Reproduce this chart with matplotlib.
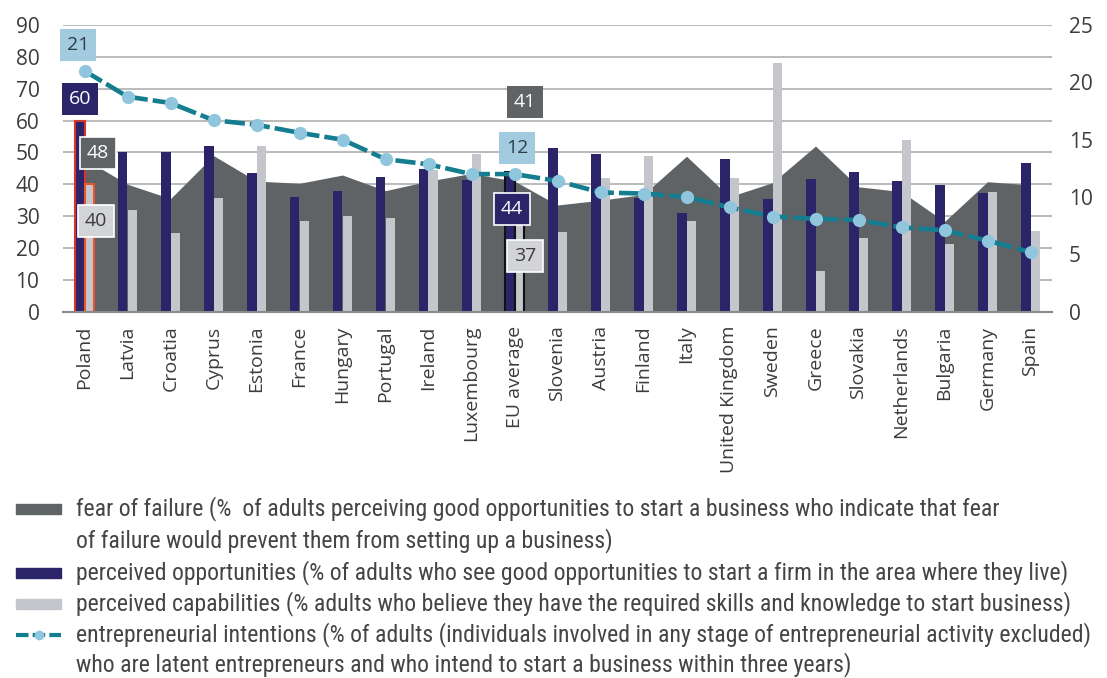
import numpy as np
import matplotlib.pyplot as plt
from matplotlib import font_manager as fm
from matplotlib.patches import Rectangle
from matplotlib.lines import Line2D

countries = ['Poland', 'Latvia', 'Croatia', 'Cyprus', 'Estonia', 'France', 'Hungary',
             'Portugal', 'Ireland', 'Luxembourg', 'EU average', 'Slovenia', 'Austria',
             'Finland', 'Italy', 'United Kingdom', 'Sweden', 'Greece', 'Slovakia',
             'Netherlands', 'Bulgaria', 'Germany', 'Spain']

# left axis, %
fear = [48, 40, 35.5, 49, 41, 40.3, 42.9, 38, 41, 43.4, 41, 33.5, 35, 36.8,
        48.8, 36.1, 40.5, 52, 39.2, 37.7, 28.3, 40.8, 39.8]
opportunities = [60, 50, 50, 52, 43.5, 36, 38, 42.4, 44.7, 41.3, 44, 51.5, 49.4,
                 35.6, 31, 47.8, 35.4, 41.7, 44, 41, 39.8, 37.2, 46.6]
capabilities = [40, 32, 24.6, 35.6, 52, 28.6, 30, 29.3, 44.5, 49.5, 37, 25.1, 42.1,
                48.9, 28.6, 42.1, 78, 12.9, 23, 53.9, 21.1, 37.5, 25.4]
# right axis, %
intentions = [21, 18.75, 18.2, 16.7, 16.3, 15.6, 15, 13.3, 12.85, 12, 12, 11.4, 10.4,
              10.3, 10, 9.1, 8.3, 8.1, 8, 7.35, 7.1, 6.2, 5.2]

legend_labels = [
    'fear of failure (%  of adults perceiving good opportunities to start a business who indicate that fear\n'
    'of failure would prevent them from setting up a business)',
    'perceived opportunities (% of adults who see good opportunities to start a firm in the area where they live)',
    'perceived capabilities (% adults who believe they have the required skills and knowledge to start business)',
    'entrepreneurial intentions (% of adults (individuals involved in any stage of entrepreneurial activity excluded)\n'
    'who are latent entrepreneurs and who intend to start a business within three years)',
]

grey_dark = '#5f6365'
navy = '#2c2468'
grey_light = '#c4c6cc'
teal = '#157d90'
light_blue = '#8fc6dd'
label_blue = '#a3cbe0'
txt = '#3c3c3c'

# pick a narrow face for the legend if one is installed
leg_family, leg_stretch = ['Liberation Sans', 'DejaVu Sans'], 'normal'
avail = {(f.name, f.stretch) for f in fm.fontManager.ttflist}
for name, stretch in [('Liberation Sans Narrow', 'condensed'), ('Liberation Sans Narrow', 'normal'),
                      ('Roboto Condensed', 'normal'), ('Roboto Condensed', 'condensed'),
                      ('Open Sans Condensed', 'condensed'), ('Open Sans', 'condensed'),
                      ('Roboto', 'condensed'), ('DejaVu Sans', 'condensed')]:
    if (name, stretch) in avail:
        leg_family, leg_stretch = [name, 'DejaVu Sans'], stretch
        break

W, H = 1107, 678
fig = plt.figure(figsize=(W / 100, H / 100), dpi=100)
ax = fig.add_axes([63 / W, 1 - 311.7 / H, (1052 - 63) / W, (311.7 - 25) / H])

x = np.arange(len(countries))
w = 0.22
eu = countries.index('EU average')

ax.fill_between(x, fear, color=grey_dark, lw=0, zorder=1)

edge = ['none'] * len(x)
lws = [0] * len(x)
edge[0] = '#d8342c'
lws[0] = 1.5
edge[eu] = '#111111'
lws[eu] = 1.5
ax.bar(x - w / 2, opportunities, w, color=navy, edgecolor=edge, linewidth=lws, zorder=2)
edge_c = list(edge)
edge_c[0] = '#e8552c'
ax.bar(x + w / 2, capabilities, w, color=grey_light, edgecolor=edge_c, linewidth=lws, zorder=2)

ax.set_xlim(-0.5, len(x) - 0.5)
ax.set_ylim(0, 90)
ax.set_yticks(range(0, 91, 10))
ax.yaxis.grid(True, color='#bcbcbc', lw=1.5)
ax.set_axisbelow(True)
for s in ['top', 'left', 'right']:
    ax.spines[s].set_visible(False)
ax.spines['bottom'].set_color('#8a8a8a')
ax.spines['bottom'].set_linewidth(1.5)
ax.tick_params(axis='y', length=0, pad=17, labelsize=15, labelcolor=txt)
ax.set_xticks(x, countries, rotation=90, fontsize=14, color=txt)
ax.tick_params(axis='x', length=0, pad=10)
for lab in ax.get_xticklabels() + ax.get_yticklabels():
    lab.set_family(['Open Sans', 'DejaVu Sans'])

ax2 = ax.twinx()
ax2.set_ylim(0, 25)
ax2.set_yticks(range(0, 26, 5))
for s in ax2.spines.values():
    s.set_visible(False)
ax2.tick_params(axis='y', length=0, pad=12, labelsize=15, labelcolor=txt)
for lab in ax2.get_yticklabels():
    lab.set_family(['Open Sans', 'DejaVu Sans'])
ax2.plot(x, intentions, color=teal, lw=3.3, dashes=(4.4, 1.1), marker='o', ms=8.5,
         mfc=light_blue, mec=light_blue, zorder=3)


def tag(text, xy, trans, off, fc, tc, ec='none'):
    ax2.annotate(text, xy=xy, xycoords=trans, xytext=off, textcoords='offset pixels',
                 ha='center', va='center', fontsize=14, color=tc,
                 family=['Open Sans', 'DejaVu Sans'], zorder=5,
                 bbox=dict(boxstyle='square,pad=0.36', fc=fc, ec=ec, lw=1.2))


# Poland
tag(f'{intentions[0]:.0f}', (x[0], intentions[0]), ax2.transData, (-6.5, 26), label_blue, '#2e3d4a')
tag(f'{opportunities[0]:.0f}', (x[0] - w / 2, opportunities[0]), ax.transData, (0, 22), navy, 'white')
tag(f'{fear[0]:.0f}', (x[0], fear[0]), ax.transData, (13.5, 6), grey_dark, 'white', 'white')
tag(f'{capabilities[0]:.0f}', (x[0] + w / 2, capabilities[0]), ax.transData, (7, -37), '#d3d4d7', txt, 'white')
# EU average
tag(f'{fear[eu]:.0f}', (x[eu], fear[eu]), ax.transData, (10.5, 79), grey_dark, 'white')
tag(f'{intentions[eu]:.0f}', (x[eu], intentions[eu]), ax2.transData, (2.5, 26), label_blue, '#2e3d4a')
tag(f'{opportunities[eu]:.0f}', (x[eu] - w / 2, opportunities[eu]), ax.transData, (2, -37), navy, 'white', 'white')
tag(f'{capabilities[eu]:.0f}', (x[eu] + w / 2, capabilities[eu]), ax.transData, (6, -62), '#d3d4d7', txt, 'white')

# legend drawn by hand below the axes, one text row per line
row_y = [509, 541, 573, 604, 635, 665]
texts = []
k = 0
for i, lbl in enumerate(legend_labels):
    lines = lbl.split('\n')
    yf = 1 - row_y[k] / H
    if i < 3:
        fc = [grey_dark, navy, grey_light][i]
        fig.patches.append(Rectangle((16 / W, yf - 5 / H), 45 / W, 10 / H, color=fc,
                                     transform=fig.transFigure))
    else:
        fig.lines.append(Line2D([16 / W, 61 / W], [yf, yf], color=teal, lw=3,
                                dashes=(3, 1), transform=fig.transFigure))
        fig.lines.append(Line2D([38.5 / W], [yf], marker='o', ms=6, mfc=light_blue,
                                mec=light_blue, transform=fig.transFigure))
    for line in lines:
        t = fig.text(76 / W, 1 - row_y[k] / H, line, ha='left', va='center',
                     fontsize=16, color='#454545', family=leg_family,
                     stretch=leg_stretch, transform=fig.transFigure)
        texts.append(t)
        k += 1

# size the legend text so the longest row ends where the plot text does
r = fig.canvas.get_renderer()
width = max(t.get_window_extent(r).width for t in texts)
fs = 16 * (1094 - 76) / width
for t in texts:
    t.set_fontsize(fs)

fig.savefig('out.png', dpi=100)
